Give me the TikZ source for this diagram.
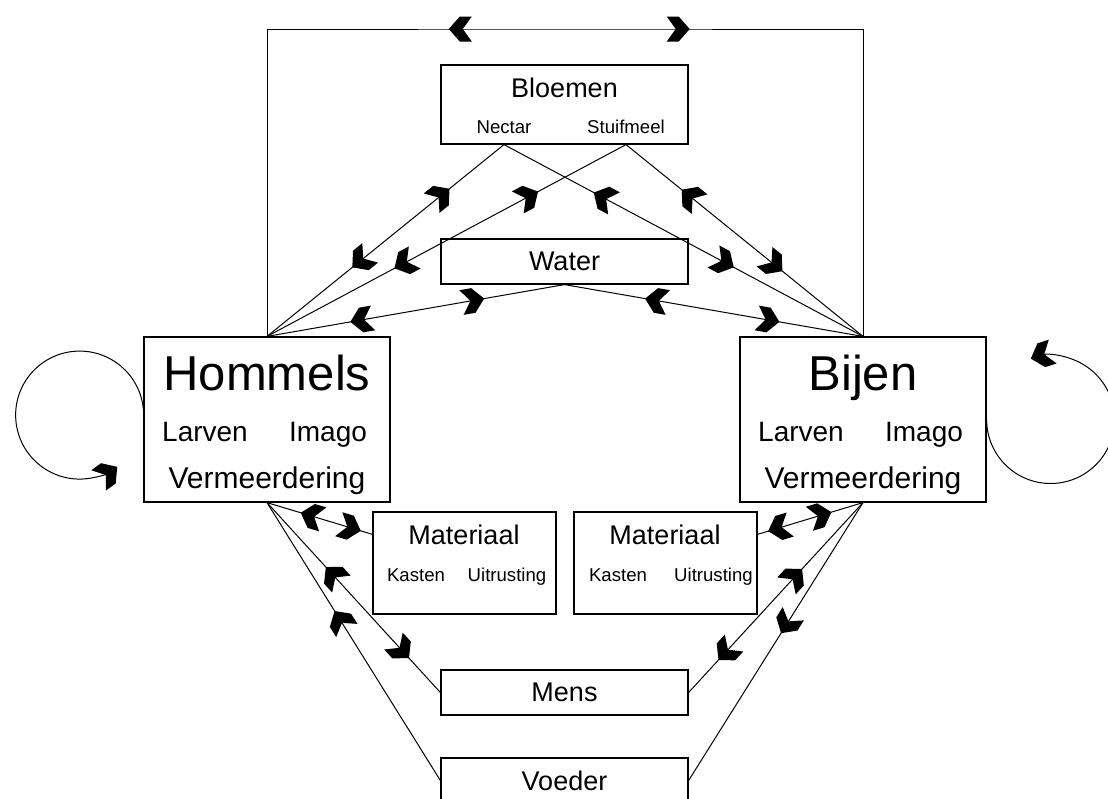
\documentclass[tikz,border=0pt]{standalone}
\usepackage{fontspec}
\setmainfont{Liberation Sans}
\usetikzlibrary{arrows.meta}
\usetikzlibrary{decorations.markings}
\pgfdeclarearrow{
  name = Chevron,
  setup code = {
    \pgfarrowssettipend{11.5pt}
    \pgfarrowssetlineend{5pt}
    \pgfarrowssetvisualbackend{4.5pt}
    \pgfarrowssetbackend{0pt}
    \pgfarrowshullpoint{11.5pt}{0pt}
    \pgfarrowsupperhullpoint{0pt}{6.25pt}
    \pgfarrowsupperhullpoint{6pt}{6.25pt}
  },
  drawing code = {
    \pgfpathmoveto{\pgfpoint{11.5pt}{0pt}}
    \pgfpathlineto{\pgfpoint{6pt}{6.25pt}}
    \pgfpathlineto{\pgfpoint{0pt}{6.25pt}}
    \pgfpathlineto{\pgfpoint{4.5pt}{0pt}}
    \pgfpathlineto{\pgfpoint{0pt}{-6.25pt}}
    \pgfpathlineto{\pgfpoint{6pt}{-6.25pt}}
    \pgfpathclose
    \pgfusepathqfill
  }
}
\tikzset{box/.style={draw,line width=0.6pt,inner sep=0pt,font=\fontsize{13.5}{16}\selectfont}}
\tikzset{boxtitle/.style={anchor=base,inner sep=0pt,font=\fontsize{13.5}{16}\selectfont}}
\tikzset{sublabel/.style={anchor=base,inner sep=0pt,font=\fontsize{9.3}{11}\selectfont}}
\tikzset{beename/.style={anchor=base,inner sep=0pt,font=\fontsize{24.5}{29}\selectfont}}
\tikzset{beestage/.style={anchor=base,inner sep=0pt,font=\fontsize{14}{17}\selectfont}}
\tikzset{beegrowth/.style={anchor=base,inner sep=0pt,font=\fontsize{15}{18}\selectfont}}
\tikzset{link/.style={line width=0.5pt}}
\tikzset{twoway/.style 2 args={link,postaction={decorate},decoration={markings,mark=at position #1 with {\arrowreversed{>}},mark=at position #2 with {\arrow{>}}}}}
\tikzset{tostart/.style={link,postaction={decorate},decoration={markings,mark=at position #1 with {\arrowreversed{>}}}}}
\tikzset{toend/.style={link,postaction={decorate},decoration={markings,mark=at position #1 with {\arrow{>}}}}}

\begin{document}
\begin{tikzpicture}[x=0.5pt,y=-0.5pt,>=Chevron]
      \pgfmathsetmacro{\widebox}{123.5}
      \pgfmathsetmacro{\matbox}{91.5}
      \useasboundingbox (0,0) rectangle (1108,798);

      \node[box,minimum width=\widebox pt,minimum height=39.5pt] at (564.5,104.5) (bloemen) {};
      \node[boxtitle] at (564.5,97) (bloementitle) {Bloemen};
      \node[sublabel] at (504,133) (nectar) {Nectar};
      \node[sublabel] at (626,133) (stuifmeel) {Stuifmeel};
      \node[box,minimum width=\widebox pt,minimum height=22.5pt] at (564.5,261.5) (water) {Water};

      \node[box,minimum width=123pt,minimum height=82.5pt] at (267,419.5) (hommels) {};
      \node[beename] at (267,390) (hommelsname) {Hommels};
      \node[beestage] at (205,441) (hommelslarven) {Larven};
      \node[beestage] at (328,441) (hommelsimago) {Imago};
      \node[beegrowth] at (267,488) (hommelsgrowth) {Vermeerdering};

      \node[box,minimum width=123pt,minimum height=82.5pt] at (863,419.5) (bijen) {};
      \node[beename] at (863,390) (bijenname) {Bijen};
      \node[beestage] at (801,441) (bijenlarven) {Larven};
      \node[beestage] at (924,441) (bijenimago) {Imago};
      \node[beegrowth] at (863,488) (bijengrowth) {Vermeerdering};

      \node[box,minimum width=\matbox pt,minimum height=51pt] at (464.5,563) (matleft) {};
      \node[boxtitle] at (464,544) (matlefttitle) {Materiaal};
      \node[sublabel] at (416,581) (matleftkasten) {Kasten};
      \node[sublabel] at (507,581) (matleftgear) {Uitrusting};
      \node[box,minimum width=\matbox pt,minimum height=51pt] at (665.5,563) (matright) {};
      \node[boxtitle] at (665,544) (matrighttitle) {Materiaal};
      \node[sublabel] at (618,581) (matrightkasten) {Kasten};
      \node[sublabel] at (713.5,581) (matrightgear) {Uitrusting};

      \node[box,minimum width=\widebox pt,minimum height=22.5pt] at (564.5,692.5) (mens) {Mens};
      \node[box,minimum width=\widebox pt,minimum height=22.5pt] at (564.5,780.5) (voeder) {Voeder};

      \coordinate (topmid) at (564.5,29);
      \draw[twoway={0.404}{0.603}] (hommels.north) |- (topmid) -| (bijen.north);

      \draw[twoway={0.23}{0.64}] (nectar |- bloemen.south) -- (hommels.north);
      \draw[twoway={0.245}{0.645}] (stuifmeel |- bloemen.south) -- (hommels.north);
      \draw[twoway={0.25}{0.64}] (nectar |- bloemen.south) -- (bijen.north);
      \draw[twoway={0.235}{0.66}] (stuifmeel |- bloemen.south) -- (bijen.north);
      \draw[twoway={0.27}{0.72}] (water.south) -- (hommels.north);
      \draw[twoway={0.27}{0.72}] (water.south) -- (bijen.north);

      \draw[link,->] ([yshift=5pt]hommels.west) arc[start angle=5,end angle=306,radius=32pt];
      \draw[link,->] (bijen.east) arc[start angle=180,end angle=468,radius=32pt];

      \draw[twoway={0.32}{0.89}] (hommels.south) -- (matleft.west |- matlefttitle);
      \draw[twoway={0.34}{0.82}] (hommels.south) -- (mens.west);
      \draw[tostart={0.39}] (hommels.south) -- (voeder.west);
      \draw[twoway={0.30}{0.90}] (bijen.south) -- (matright.east |- matrighttitle);
      \draw[twoway={0.35}{0.83}] (bijen.south) -- (mens.east);
      \draw[toend={0.47}] (bijen.south) -- (voeder.east);
    \end{tikzpicture}
\end{document}
